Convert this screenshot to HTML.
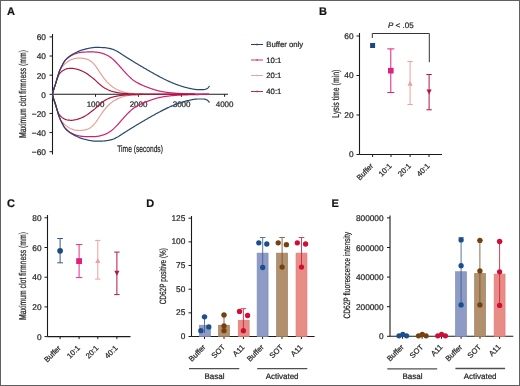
<!DOCTYPE html><html><head><meta charset="utf-8"><style>html,body{margin:0;padding:0;background:#fff;}svg{display:block;will-change:transform;}text{font-family:"Liberation Sans",sans-serif;stroke:#2a2a2a;stroke-width:0.22px;}</style></head><body>
<svg width="520" height="386" viewBox="0 0 520 386" text-rendering="geometricPrecision">
<rect x="0" y="0" width="520" height="386" fill="#fff"/>
<rect x="0.5" y="0.5" width="519" height="385" fill="none" stroke="#606060" stroke-width="1"/>
<text x="7" y="15" font-size="11" font-weight="bold" fill="#111">A</text>
<text x="319" y="15.3" font-size="11" font-weight="bold" fill="#111">B</text>
<text x="6.9" y="207.3" font-size="11" font-weight="bold" fill="#111">C</text>
<text x="146.3" y="207.3" font-size="11" font-weight="bold" fill="#111">D</text>
<text x="331.5" y="207.4" font-size="11" font-weight="bold" fill="#111">E</text>
<line x1="52.5" y1="34" x2="52.5" y2="154.5" stroke="#1a1a1a" stroke-width="1.1"/>
<line x1="52.5" y1="94.3" x2="228" y2="94.3" stroke="#1a1a1a" stroke-width="1.1"/>
<line x1="49.5" y1="36.90" x2="52.5" y2="36.90" stroke="#1a1a1a" stroke-width="1"/>
<text x="45.9" y="40.30" font-size="8.3" text-anchor="end" fill="#222">60</text>
<line x1="49.5" y1="56.03" x2="52.5" y2="56.03" stroke="#1a1a1a" stroke-width="1"/>
<text x="45.9" y="59.43" font-size="8.3" text-anchor="end" fill="#222">40</text>
<line x1="49.5" y1="75.17" x2="52.5" y2="75.17" stroke="#1a1a1a" stroke-width="1"/>
<text x="45.9" y="78.57" font-size="8.3" text-anchor="end" fill="#222">20</text>
<line x1="49.5" y1="94.30" x2="52.5" y2="94.30" stroke="#1a1a1a" stroke-width="1"/>
<text x="45.9" y="97.70" font-size="8.3" text-anchor="end" fill="#222">0</text>
<line x1="49.5" y1="113.43" x2="52.5" y2="113.43" stroke="#1a1a1a" stroke-width="1"/>
<text x="45.9" y="116.83" font-size="8.3" text-anchor="end" fill="#222">&#8722;20</text>
<line x1="49.5" y1="132.57" x2="52.5" y2="132.57" stroke="#1a1a1a" stroke-width="1"/>
<text x="45.9" y="135.97" font-size="8.3" text-anchor="end" fill="#222">&#8722;40</text>
<line x1="49.5" y1="151.70" x2="52.5" y2="151.70" stroke="#1a1a1a" stroke-width="1"/>
<text x="45.9" y="155.10" font-size="8.3" text-anchor="end" fill="#222">&#8722;60</text>
<line x1="95.53" y1="94.3" x2="95.53" y2="96.8" stroke="#1a1a1a" stroke-width="1"/>
<text x="95.53" y="107.3" font-size="8" text-anchor="middle" fill="#222">1000</text>
<line x1="138.56" y1="94.3" x2="138.56" y2="96.8" stroke="#1a1a1a" stroke-width="1"/>
<text x="138.56" y="107.3" font-size="8" text-anchor="middle" fill="#222">2000</text>
<line x1="181.59" y1="94.3" x2="181.59" y2="96.8" stroke="#1a1a1a" stroke-width="1"/>
<text x="181.59" y="107.3" font-size="8" text-anchor="middle" fill="#222">3000</text>
<line x1="224.62" y1="94.3" x2="224.62" y2="96.8" stroke="#1a1a1a" stroke-width="1"/>
<text x="224.62" y="107.3" font-size="8" text-anchor="middle" fill="#222">4000</text>
<path d="M52.50,94.30 L53.00,92.08 L53.50,90.14 L54.00,88.52 L54.50,87.05 L55.00,85.61 L55.50,84.08 L56.00,82.43 L56.50,80.74 L57.00,79.07 L57.50,77.49 L58.00,75.97 L58.50,74.48 L59.00,73.07 L59.50,71.74 L60.00,70.44 L60.50,69.27 L61.00,68.37 L61.50,67.62 L62.00,66.97 L62.50,66.38 L63.00,65.83 L63.50,65.30 L64.00,64.78 L64.50,64.28 L65.00,63.80 L65.50,63.36 L66.00,62.95 L66.50,62.58 L67.00,62.21 L67.50,61.85 L68.00,61.50 L68.50,61.17 L69.00,60.85 L69.50,60.55 L70.00,60.28 L70.50,60.02 L71.00,59.80 L71.50,59.60 L72.00,59.42 L72.50,59.24 L73.00,59.07 L73.50,58.90 L74.00,58.75 L74.50,58.61 L75.00,58.48 L75.50,58.38 L76.00,58.29 L76.50,58.23 L77.00,58.19 L77.50,58.17 L78.00,58.15 L78.50,58.13 L79.00,58.11 L79.50,58.10 L80.00,58.10 L80.50,58.11 L81.00,58.14 L81.50,58.18 L82.00,58.23 L82.50,58.29 L83.00,58.36 L83.50,58.43 L84.00,58.50 L84.50,58.58 L85.00,58.68 L85.50,58.80 L86.00,58.93 L86.50,59.08 L87.00,59.24 L87.50,59.41 L88.00,59.60 L88.50,59.82 L89.00,60.08 L89.50,60.37 L90.00,60.70 L90.50,61.05 L91.00,61.42 L91.50,61.80 L92.00,62.21 L92.50,62.65 L93.00,63.12 L93.50,63.63 L94.00,64.16 L94.50,64.72 L95.00,65.30 L95.50,65.92 L96.00,66.59 L96.50,67.31 L97.00,68.05 L97.50,68.82 L98.00,69.59 L98.50,70.36 L99.00,71.11 L99.50,71.84 L100.00,72.58 L100.50,73.33 L101.00,74.08 L101.50,74.82 L102.00,75.56 L102.50,76.27 L103.00,76.97 L103.50,77.63 L104.00,78.28 L104.50,78.92 L105.00,79.55 L105.50,80.16 L106.00,80.75 L106.50,81.33 L107.00,81.88 L107.50,82.40 L108.00,82.90 L108.50,83.39 L109.00,83.87 L109.50,84.34 L110.00,84.80 L110.50,85.24 L111.00,85.66 L111.50,86.07 L112.00,86.46 L112.50,86.82 L113.00,87.17 L113.50,87.49 L114.00,87.81 L114.50,88.11 L115.00,88.41 L115.50,88.69 L116.00,88.97 L116.50,89.23 L117.00,89.49 L117.50,89.74 L118.00,89.97 L118.50,90.20 L119.00,90.42 L119.50,90.63 L120.00,90.82 L120.50,91.01 L121.00,91.20 L121.50,91.38 L122.00,91.55 L122.50,91.72 L123.00,91.88 L123.50,92.04 L124.00,92.18 L124.50,92.31 L125.00,92.43 L125.50,92.54 L126.00,92.64 L126.50,92.73 L127.00,92.82 L127.50,92.91 L128.00,92.99 L128.50,93.08 L129.00,93.16 L129.50,93.23 L130.00,93.31 L130.50,93.38 L131.00,93.44 L131.50,93.50 L132.00,93.56 L132.50,93.61 L133.00,93.66 L133.50,93.70 L134.00,93.74 L134.50,93.77 L135.00,93.80 L135.50,93.82 L136.00,93.85 L136.50,93.87 L137.00,93.89 L137.50,93.91 L138.00,93.93 L138.50,93.95 L139.00,93.97 L139.50,93.98 L140.00,94.00 L140.50,94.02 L141.00,94.03 L141.50,94.05 L142.00,94.06 L142.50,94.08 L143.00,94.09 L143.50,94.10 L144.00,94.12 L144.50,94.13 L145.00,94.14 L145.50,94.15 L146.00,94.16 L146.50,94.16 L147.00,94.17 L147.50,94.18 L148.00,94.18 L148.50,94.19 L149.00,94.19 L149.50,94.20 L150.00,94.20 L150.50,94.20 L151.00,94.20 L151.50,94.21 L152.00,94.21 L152.50,94.21 L153.00,94.21 L153.50,94.22 L154.00,94.22 L154.50,94.22 L155.00,94.22 L155.50,94.22 L156.00,94.23 L156.50,94.23 L157.00,94.23 L157.50,94.23 L158.00,94.23 L158.50,94.24 L159.00,94.24 L159.50,94.24 L160.00,94.24 L160.50,94.24 L161.00,94.24 L161.50,94.25 L162.00,94.25 L162.50,94.25 L163.00,94.25 L163.50,94.25 L164.00,94.25 L164.50,94.26 L165.00,94.26 L165.50,94.26 L166.00,94.26 L166.50,94.26 L167.00,94.26 L167.50,94.26 L168.00,94.27 L168.50,94.27 L169.00,94.27 L169.50,94.27 L170.00,94.27 L170.50,94.27 L171.00,94.27 L171.50,94.27 L172.00,94.28 L172.50,94.28 L173.00,94.28 L173.50,94.28 L174.00,94.28 L174.50,94.28 L175.00,94.28 L175.50,94.28 L176.00,94.28 L176.50,94.28 L177.00,94.29 L177.50,94.29 L178.00,94.29 L178.50,94.29 L179.00,94.29 L179.50,94.29 L180.00,94.29 L180.50,94.29 L181.00,94.29 L181.50,94.29 L182.00,94.29 L182.50,94.29 L183.00,94.29 L183.50,94.29 L184.00,94.29 L184.50,94.30 L185.00,94.30 L185.50,94.30 L186.00,94.30 L186.50,94.30 L187.00,94.30 L187.50,94.30 L188.00,94.30 L188.50,94.30 L189.00,94.30 L189.50,94.30 L190.00,94.30 L190.50,94.30 L191.00,94.30 L191.50,94.30 L192.00,94.30 L192.50,94.30 L193.00,94.30 L193.50,94.30 L194.00,94.30 L194.50,94.30 L195.00,94.30" fill="none" stroke="#e6a096" stroke-width="1.2"/>
<path d="M52.50,94.30 L53.00,96.52 L53.50,98.46 L54.00,100.08 L54.50,101.55 L55.00,102.99 L55.50,104.52 L56.00,106.17 L56.50,107.86 L57.00,109.53 L57.50,111.11 L58.00,112.63 L58.50,114.12 L59.00,115.53 L59.50,116.86 L60.00,118.16 L60.50,119.33 L61.00,120.23 L61.50,120.98 L62.00,121.63 L62.50,122.22 L63.00,122.77 L63.50,123.30 L64.00,123.82 L64.50,124.32 L65.00,124.80 L65.50,125.24 L66.00,125.65 L66.50,126.02 L67.00,126.39 L67.50,126.75 L68.00,127.10 L68.50,127.43 L69.00,127.75 L69.50,128.05 L70.00,128.32 L70.50,128.58 L71.00,128.80 L71.50,129.00 L72.00,129.18 L72.50,129.36 L73.00,129.53 L73.50,129.70 L74.00,129.85 L74.50,129.99 L75.00,130.12 L75.50,130.22 L76.00,130.31 L76.50,130.37 L77.00,130.41 L77.50,130.43 L78.00,130.45 L78.50,130.47 L79.00,130.49 L79.50,130.50 L80.00,130.50 L80.50,130.49 L81.00,130.47 L81.50,130.42 L82.00,130.37 L82.50,130.31 L83.00,130.25 L83.50,130.17 L84.00,130.10 L84.50,130.02 L85.00,129.92 L85.50,129.80 L86.00,129.67 L86.50,129.52 L87.00,129.36 L87.50,129.19 L88.00,129.00 L88.50,128.78 L89.00,128.52 L89.50,128.23 L90.00,127.90 L90.50,127.55 L91.00,127.18 L91.50,126.80 L92.00,126.39 L92.50,125.95 L93.00,125.48 L93.50,124.97 L94.00,124.44 L94.50,123.88 L95.00,123.30 L95.50,122.68 L96.00,122.01 L96.50,121.29 L97.00,120.55 L97.50,119.78 L98.00,119.01 L98.50,118.24 L99.00,117.49 L99.50,116.76 L100.00,116.02 L100.50,115.27 L101.00,114.52 L101.50,113.78 L102.00,113.04 L102.50,112.33 L103.00,111.63 L103.50,110.97 L104.00,110.32 L104.50,109.68 L105.00,109.05 L105.50,108.44 L106.00,107.85 L106.50,107.27 L107.00,106.72 L107.50,106.20 L108.00,105.70 L108.50,105.21 L109.00,104.73 L109.50,104.26 L110.00,103.80 L110.50,103.36 L111.00,102.94 L111.50,102.53 L112.00,102.14 L112.50,101.78 L113.00,101.43 L113.50,101.11 L114.00,100.79 L114.50,100.49 L115.00,100.19 L115.50,99.91 L116.00,99.63 L116.50,99.37 L117.00,99.11 L117.50,98.86 L118.00,98.63 L118.50,98.40 L119.00,98.18 L119.50,97.97 L120.00,97.78 L120.50,97.59 L121.00,97.40 L121.50,97.22 L122.00,97.05 L122.50,96.88 L123.00,96.72 L123.50,96.56 L124.00,96.42 L124.50,96.29 L125.00,96.17 L125.50,96.06 L126.00,95.96 L126.50,95.87 L127.00,95.78 L127.50,95.69 L128.00,95.61 L128.50,95.52 L129.00,95.44 L129.50,95.37 L130.00,95.29 L130.50,95.22 L131.00,95.16 L131.50,95.10 L132.00,95.04 L132.50,94.99 L133.00,94.94 L133.50,94.90 L134.00,94.86 L134.50,94.83 L135.00,94.80 L135.50,94.78 L136.00,94.75 L136.50,94.73 L137.00,94.71 L137.50,94.69 L138.00,94.67 L138.50,94.65 L139.00,94.63 L139.50,94.62 L140.00,94.60 L140.50,94.58 L141.00,94.57 L141.50,94.55 L142.00,94.54 L142.50,94.52 L143.00,94.51 L143.50,94.50 L144.00,94.48 L144.50,94.47 L145.00,94.46 L145.50,94.45 L146.00,94.44 L146.50,94.44 L147.00,94.43 L147.50,94.42 L148.00,94.42 L148.50,94.41 L149.00,94.41 L149.50,94.40 L150.00,94.40 L150.50,94.40 L151.00,94.40 L151.50,94.39 L152.00,94.39 L152.50,94.39 L153.00,94.39 L153.50,94.38 L154.00,94.38 L154.50,94.38 L155.00,94.38 L155.50,94.38 L156.00,94.37 L156.50,94.37 L157.00,94.37 L157.50,94.37 L158.00,94.37 L158.50,94.36 L159.00,94.36 L159.50,94.36 L160.00,94.36 L160.50,94.36 L161.00,94.36 L161.50,94.35 L162.00,94.35 L162.50,94.35 L163.00,94.35 L163.50,94.35 L164.00,94.35 L164.50,94.34 L165.00,94.34 L165.50,94.34 L166.00,94.34 L166.50,94.34 L167.00,94.34 L167.50,94.34 L168.00,94.33 L168.50,94.33 L169.00,94.33 L169.50,94.33 L170.00,94.33 L170.50,94.33 L171.00,94.33 L171.50,94.33 L172.00,94.32 L172.50,94.32 L173.00,94.32 L173.50,94.32 L174.00,94.32 L174.50,94.32 L175.00,94.32 L175.50,94.32 L176.00,94.32 L176.50,94.32 L177.00,94.31 L177.50,94.31 L178.00,94.31 L178.50,94.31 L179.00,94.31 L179.50,94.31 L180.00,94.31 L180.50,94.31 L181.00,94.31 L181.50,94.31 L182.00,94.31 L182.50,94.31 L183.00,94.31 L183.50,94.31 L184.00,94.31 L184.50,94.30 L185.00,94.30 L185.50,94.30 L186.00,94.30 L186.50,94.30 L187.00,94.30 L187.50,94.30 L188.00,94.30 L188.50,94.30 L189.00,94.30 L189.50,94.30 L190.00,94.30 L190.50,94.30 L191.00,94.30 L191.50,94.30 L192.00,94.30 L192.50,94.30 L193.00,94.30 L193.50,94.30 L194.00,94.30 L194.50,94.30 L195.00,94.30" fill="none" stroke="#e6a096" stroke-width="1.2"/>
<path d="M52.50,94.30 L53.00,92.08 L53.50,90.14 L54.00,88.52 L54.50,87.06 L55.00,85.63 L55.50,84.08 L56.00,82.40 L56.50,80.67 L57.00,78.95 L57.50,77.27 L58.00,75.57 L58.50,73.89 L59.00,72.31 L59.50,70.95 L60.00,69.74 L60.50,68.64 L61.00,67.61 L61.50,66.64 L62.00,65.69 L62.50,64.74 L63.00,63.80 L63.50,62.89 L64.00,62.04 L64.50,61.29 L65.00,60.66 L65.50,60.09 L66.00,59.56 L66.50,59.07 L67.00,58.62 L67.50,58.19 L68.00,57.80 L68.50,57.42 L69.00,57.06 L69.50,56.72 L70.00,56.39 L70.50,56.08 L71.00,55.79 L71.50,55.51 L72.00,55.25 L72.50,54.99 L73.00,54.75 L73.50,54.52 L74.00,54.29 L74.50,54.07 L75.00,53.86 L75.50,53.67 L76.00,53.49 L76.50,53.32 L77.00,53.17 L77.50,53.03 L78.00,52.90 L78.50,52.78 L79.00,52.67 L79.50,52.57 L80.00,52.50 L80.50,52.44 L81.00,52.38 L81.50,52.32 L82.00,52.27 L82.50,52.22 L83.00,52.17 L83.50,52.13 L84.00,52.10 L84.50,52.07 L85.00,52.04 L85.50,52.02 L86.00,52.00 L86.50,51.99 L87.00,51.97 L87.50,51.96 L88.00,51.95 L88.50,51.94 L89.00,51.93 L89.50,51.92 L90.00,51.91 L90.50,51.91 L91.00,51.90 L91.50,51.90 L92.00,51.90 L92.50,51.90 L93.00,51.92 L93.50,51.94 L94.00,51.96 L94.50,51.99 L95.00,52.03 L95.50,52.07 L96.00,52.11 L96.50,52.15 L97.00,52.20 L97.50,52.26 L98.00,52.33 L98.50,52.42 L99.00,52.53 L99.50,52.64 L100.00,52.75 L100.50,52.88 L101.00,53.00 L101.50,53.13 L102.00,53.27 L102.50,53.42 L103.00,53.58 L103.50,53.75 L104.00,53.92 L104.50,54.11 L105.00,54.30 L105.50,54.50 L106.00,54.71 L106.50,54.94 L107.00,55.18 L107.50,55.44 L108.00,55.72 L108.50,56.02 L109.00,56.33 L109.50,56.65 L110.00,56.99 L110.50,57.34 L111.00,57.70 L111.50,58.07 L112.00,58.45 L112.50,58.86 L113.00,59.29 L113.50,59.74 L114.00,60.22 L114.50,60.70 L115.00,61.21 L115.50,61.72 L116.00,62.24 L116.50,62.76 L117.00,63.28 L117.50,63.80 L118.00,64.34 L118.50,64.88 L119.00,65.44 L119.50,66.01 L120.00,66.58 L120.50,67.16 L121.00,67.73 L121.50,68.31 L122.00,68.88 L122.50,69.45 L123.00,70.00 L123.50,70.55 L124.00,71.11 L124.50,71.66 L125.00,72.22 L125.50,72.77 L126.00,73.32 L126.50,73.86 L127.00,74.39 L127.50,74.91 L128.00,75.42 L128.50,75.90 L129.00,76.38 L129.50,76.85 L130.00,77.32 L130.50,77.78 L131.00,78.24 L131.50,78.68 L132.00,79.11 L132.50,79.52 L133.00,79.92 L133.50,80.30 L134.00,80.66 L134.50,81.00 L135.00,81.33 L135.50,81.65 L136.00,81.96 L136.50,82.26 L137.00,82.55 L137.50,82.83 L138.00,83.10 L138.50,83.37 L139.00,83.63 L139.50,83.88 L140.00,84.13 L140.50,84.37 L141.00,84.61 L141.50,84.84 L142.00,85.07 L142.50,85.29 L143.00,85.51 L143.50,85.73 L144.00,85.94 L144.50,86.14 L145.00,86.35 L145.50,86.54 L146.00,86.74 L146.50,86.93 L147.00,87.12 L147.50,87.31 L148.00,87.49 L148.50,87.67 L149.00,87.85 L149.50,88.03 L150.00,88.20 L150.50,88.37 L151.00,88.55 L151.50,88.72 L152.00,88.89 L152.50,89.06 L153.00,89.23 L153.50,89.39 L154.00,89.56 L154.50,89.72 L155.00,89.87 L155.50,90.03 L156.00,90.18 L156.50,90.32 L157.00,90.46 L157.50,90.59 L158.00,90.72 L158.50,90.84 L159.00,90.96 L159.50,91.06 L160.00,91.17 L160.50,91.27 L161.00,91.37 L161.50,91.47 L162.00,91.57 L162.50,91.66 L163.00,91.75 L163.50,91.84 L164.00,91.93 L164.50,92.01 L165.00,92.09 L165.50,92.17 L166.00,92.24 L166.50,92.31 L167.00,92.38 L167.50,92.45 L168.00,92.51 L168.50,92.57 L169.00,92.62 L169.50,92.68 L170.00,92.73 L170.50,92.78 L171.00,92.83 L171.50,92.88 L172.00,92.93 L172.50,92.97 L173.00,93.02 L173.50,93.06 L174.00,93.10 L174.50,93.14 L175.00,93.18 L175.50,93.22 L176.00,93.26 L176.50,93.29 L177.00,93.33 L177.50,93.36 L178.00,93.39 L178.50,93.42 L179.00,93.45 L179.50,93.48 L180.00,93.50 L180.50,93.52 L181.00,93.55 L181.50,93.57 L182.00,93.59 L182.50,93.61 L183.00,93.63 L183.50,93.66 L184.00,93.68 L184.50,93.70 L185.00,93.71 L185.50,93.73 L186.00,93.75 L186.50,93.77 L187.00,93.79 L187.50,93.80 L188.00,93.82 L188.50,93.83 L189.00,93.85 L189.50,93.87 L190.00,93.88 L190.50,93.89 L191.00,93.91 L191.50,93.92 L192.00,93.93 L192.50,93.95 L193.00,93.96 L193.50,93.97 L194.00,93.98 L194.50,93.99 L195.00,94.00 L195.50,94.01 L196.00,94.02 L196.50,94.03 L197.00,94.04 L197.50,94.05 L198.00,94.06 L198.50,94.07 L199.00,94.08 L199.50,94.08 L200.00,94.09 L200.50,94.10 L201.00,94.11 L201.50,94.12 L202.00,94.13 L202.50,94.13 L203.00,94.14 L203.50,94.15 L204.00,94.15 L204.50,94.16 L205.00,94.17 L205.50,94.17 L206.00,94.18 L206.50,94.18 L207.00,94.19 L207.50,94.19 L208.00,94.19 L208.50,94.20 L209.00,94.20" fill="none" stroke="#cf1f6e" stroke-width="1.2"/>
<path d="M52.50,94.30 L53.00,96.52 L53.50,98.46 L54.00,100.08 L54.50,101.54 L55.00,102.97 L55.50,104.52 L56.00,106.20 L56.50,107.93 L57.00,109.65 L57.50,111.33 L58.00,113.03 L58.50,114.71 L59.00,116.29 L59.50,117.65 L60.00,118.86 L60.50,119.96 L61.00,120.99 L61.50,121.96 L62.00,122.91 L62.50,123.86 L63.00,124.80 L63.50,125.71 L64.00,126.56 L64.50,127.31 L65.00,127.94 L65.50,128.51 L66.00,129.04 L66.50,129.53 L67.00,129.98 L67.50,130.41 L68.00,130.80 L68.50,131.18 L69.00,131.54 L69.50,131.88 L70.00,132.21 L70.50,132.52 L71.00,132.81 L71.50,133.09 L72.00,133.35 L72.50,133.61 L73.00,133.85 L73.50,134.08 L74.00,134.31 L74.50,134.53 L75.00,134.74 L75.50,134.93 L76.00,135.11 L76.50,135.28 L77.00,135.43 L77.50,135.57 L78.00,135.70 L78.50,135.82 L79.00,135.93 L79.50,136.03 L80.00,136.10 L80.50,136.16 L81.00,136.22 L81.50,136.28 L82.00,136.33 L82.50,136.38 L83.00,136.43 L83.50,136.47 L84.00,136.50 L84.50,136.53 L85.00,136.56 L85.50,136.58 L86.00,136.60 L86.50,136.61 L87.00,136.63 L87.50,136.64 L88.00,136.65 L88.50,136.66 L89.00,136.67 L89.50,136.68 L90.00,136.69 L90.50,136.69 L91.00,136.70 L91.50,136.70 L92.00,136.70 L92.50,136.70 L93.00,136.68 L93.50,136.66 L94.00,136.64 L94.50,136.61 L95.00,136.57 L95.50,136.53 L96.00,136.49 L96.50,136.45 L97.00,136.40 L97.50,136.34 L98.00,136.27 L98.50,136.18 L99.00,136.07 L99.50,135.96 L100.00,135.85 L100.50,135.72 L101.00,135.60 L101.50,135.47 L102.00,135.33 L102.50,135.18 L103.00,135.02 L103.50,134.85 L104.00,134.68 L104.50,134.49 L105.00,134.30 L105.50,134.10 L106.00,133.89 L106.50,133.66 L107.00,133.42 L107.50,133.16 L108.00,132.88 L108.50,132.58 L109.00,132.27 L109.50,131.95 L110.00,131.61 L110.50,131.26 L111.00,130.90 L111.50,130.53 L112.00,130.15 L112.50,129.74 L113.00,129.31 L113.50,128.86 L114.00,128.38 L114.50,127.90 L115.00,127.39 L115.50,126.88 L116.00,126.36 L116.50,125.84 L117.00,125.32 L117.50,124.80 L118.00,124.26 L118.50,123.72 L119.00,123.16 L119.50,122.59 L120.00,122.02 L120.50,121.44 L121.00,120.87 L121.50,120.29 L122.00,119.72 L122.50,119.15 L123.00,118.60 L123.50,118.05 L124.00,117.49 L124.50,116.94 L125.00,116.38 L125.50,115.83 L126.00,115.28 L126.50,114.74 L127.00,114.21 L127.50,113.69 L128.00,113.18 L128.50,112.70 L129.00,112.22 L129.50,111.75 L130.00,111.28 L130.50,110.82 L131.00,110.36 L131.50,109.92 L132.00,109.49 L132.50,109.08 L133.00,108.68 L133.50,108.30 L134.00,107.94 L134.50,107.60 L135.00,107.27 L135.50,106.95 L136.00,106.64 L136.50,106.34 L137.00,106.05 L137.50,105.77 L138.00,105.50 L138.50,105.23 L139.00,104.97 L139.50,104.72 L140.00,104.47 L140.50,104.23 L141.00,103.99 L141.50,103.76 L142.00,103.53 L142.50,103.31 L143.00,103.09 L143.50,102.87 L144.00,102.66 L144.50,102.46 L145.00,102.25 L145.50,102.06 L146.00,101.86 L146.50,101.67 L147.00,101.48 L147.50,101.29 L148.00,101.11 L148.50,100.93 L149.00,100.75 L149.50,100.57 L150.00,100.40 L150.50,100.23 L151.00,100.05 L151.50,99.88 L152.00,99.71 L152.50,99.54 L153.00,99.37 L153.50,99.21 L154.00,99.04 L154.50,98.88 L155.00,98.73 L155.50,98.57 L156.00,98.42 L156.50,98.28 L157.00,98.14 L157.50,98.01 L158.00,97.88 L158.50,97.76 L159.00,97.64 L159.50,97.54 L160.00,97.43 L160.50,97.33 L161.00,97.23 L161.50,97.13 L162.00,97.03 L162.50,96.94 L163.00,96.85 L163.50,96.76 L164.00,96.67 L164.50,96.59 L165.00,96.51 L165.50,96.43 L166.00,96.36 L166.50,96.29 L167.00,96.22 L167.50,96.15 L168.00,96.09 L168.50,96.03 L169.00,95.98 L169.50,95.92 L170.00,95.87 L170.50,95.82 L171.00,95.77 L171.50,95.72 L172.00,95.67 L172.50,95.63 L173.00,95.58 L173.50,95.54 L174.00,95.50 L174.50,95.46 L175.00,95.42 L175.50,95.38 L176.00,95.34 L176.50,95.31 L177.00,95.27 L177.50,95.24 L178.00,95.21 L178.50,95.18 L179.00,95.15 L179.50,95.12 L180.00,95.10 L180.50,95.08 L181.00,95.05 L181.50,95.03 L182.00,95.01 L182.50,94.99 L183.00,94.97 L183.50,94.94 L184.00,94.92 L184.50,94.90 L185.00,94.89 L185.50,94.87 L186.00,94.85 L186.50,94.83 L187.00,94.81 L187.50,94.80 L188.00,94.78 L188.50,94.77 L189.00,94.75 L189.50,94.73 L190.00,94.72 L190.50,94.71 L191.00,94.69 L191.50,94.68 L192.00,94.67 L192.50,94.65 L193.00,94.64 L193.50,94.63 L194.00,94.62 L194.50,94.61 L195.00,94.60 L195.50,94.59 L196.00,94.58 L196.50,94.57 L197.00,94.56 L197.50,94.55 L198.00,94.54 L198.50,94.53 L199.00,94.52 L199.50,94.52 L200.00,94.51 L200.50,94.50 L201.00,94.49 L201.50,94.48 L202.00,94.47 L202.50,94.47 L203.00,94.46 L203.50,94.45 L204.00,94.45 L204.50,94.44 L205.00,94.43 L205.50,94.43 L206.00,94.42 L206.50,94.42 L207.00,94.41 L207.50,94.41 L208.00,94.41 L208.50,94.40 L209.00,94.40" fill="none" stroke="#cf1f6e" stroke-width="1.2"/>
<path d="M52.50,94.30 L53.00,92.08 L53.50,90.14 L54.00,88.52 L54.50,87.05 L55.00,85.61 L55.50,84.08 L56.00,82.39 L56.50,80.67 L57.00,79.07 L57.50,77.70 L58.00,76.44 L58.50,75.36 L59.00,74.52 L59.50,73.79 L60.00,73.16 L60.50,72.60 L61.00,72.11 L61.50,71.65 L62.00,71.22 L62.50,70.84 L63.00,70.49 L63.50,70.20 L64.00,69.93 L64.50,69.67 L65.00,69.42 L65.50,69.19 L66.00,68.99 L66.50,68.82 L67.00,68.69 L67.50,68.60 L68.00,68.54 L68.50,68.48 L69.00,68.43 L69.50,68.39 L70.00,68.35 L70.50,68.32 L71.00,68.31 L71.50,68.30 L72.00,68.31 L72.50,68.35 L73.00,68.41 L73.50,68.49 L74.00,68.58 L74.50,68.68 L75.00,68.78 L75.50,68.88 L76.00,68.98 L76.50,69.10 L77.00,69.23 L77.50,69.37 L78.00,69.52 L78.50,69.68 L79.00,69.85 L79.50,70.02 L80.00,70.20 L80.50,70.38 L81.00,70.58 L81.50,70.79 L82.00,71.00 L82.50,71.23 L83.00,71.46 L83.50,71.71 L84.00,71.96 L84.50,72.23 L85.00,72.50 L85.50,72.79 L86.00,73.09 L86.50,73.41 L87.00,73.75 L87.50,74.09 L88.00,74.45 L88.50,74.82 L89.00,75.19 L89.50,75.57 L90.00,75.96 L90.50,76.35 L91.00,76.73 L91.50,77.12 L92.00,77.50 L92.50,77.88 L93.00,78.27 L93.50,78.66 L94.00,79.06 L94.50,79.47 L95.00,79.90 L95.50,80.35 L96.00,80.82 L96.50,81.31 L97.00,81.81 L97.50,82.31 L98.00,82.80 L98.50,83.28 L99.00,83.73 L99.50,84.15 L100.00,84.57 L100.50,84.99 L101.00,85.40 L101.50,85.80 L102.00,86.19 L102.50,86.57 L103.00,86.93 L103.50,87.28 L104.00,87.61 L104.50,87.92 L105.00,88.21 L105.50,88.50 L106.00,88.77 L106.50,89.04 L107.00,89.30 L107.50,89.56 L108.00,89.80 L108.50,90.04 L109.00,90.26 L109.50,90.48 L110.00,90.68 L110.50,90.87 L111.00,91.05 L111.50,91.21 L112.00,91.36 L112.50,91.50 L113.00,91.63 L113.50,91.76 L114.00,91.88 L114.50,91.99 L115.00,92.10 L115.50,92.21 L116.00,92.31 L116.50,92.41 L117.00,92.50 L117.50,92.59 L118.00,92.67 L118.50,92.75 L119.00,92.83 L119.50,92.91 L120.00,92.98 L120.50,93.06 L121.00,93.13 L121.50,93.20 L122.00,93.26 L122.50,93.32 L123.00,93.38 L123.50,93.43 L124.00,93.47 L124.50,93.51 L125.00,93.54 L125.50,93.58 L126.00,93.61 L126.50,93.64 L127.00,93.67 L127.50,93.70 L128.00,93.72 L128.50,93.75 L129.00,93.77 L129.50,93.80 L130.00,93.82 L130.50,93.84 L131.00,93.86 L131.50,93.88 L132.00,93.90 L132.50,93.92 L133.00,93.94 L133.50,93.95 L134.00,93.97 L134.50,93.99 L135.00,94.00 L135.50,94.01 L136.00,94.03 L136.50,94.04 L137.00,94.06 L137.50,94.07 L138.00,94.09 L138.50,94.10 L139.00,94.11 L139.50,94.13 L140.00,94.14 L140.50,94.15 L141.00,94.17 L141.50,94.18 L142.00,94.19 L142.50,94.20 L143.00,94.22 L143.50,94.23 L144.00,94.24 L144.50,94.25 L145.00,94.25 L145.50,94.26 L146.00,94.27 L146.50,94.28 L147.00,94.28 L147.50,94.29 L148.00,94.29 L148.50,94.30 L149.00,94.30 L149.50,94.30 L150.00,94.30 L150.50,94.30 L151.00,94.30 L151.50,94.30 L152.00,94.30 L152.50,94.30 L153.00,94.30 L153.50,94.30 L154.00,94.30 L154.50,94.30 L155.00,94.30 L155.50,94.30 L156.00,94.30 L156.50,94.30 L157.00,94.30 L157.50,94.30 L158.00,94.30 L158.50,94.30 L159.00,94.30 L159.50,94.30 L160.00,94.30 L160.50,94.30 L161.00,94.30 L161.50,94.30 L162.00,94.30 L162.50,94.30 L163.00,94.30 L163.50,94.30 L164.00,94.30 L164.50,94.30 L165.00,94.30 L165.50,94.30 L166.00,94.30 L166.50,94.30 L167.00,94.30 L167.50,94.30 L168.00,94.30 L168.50,94.30 L169.00,94.30 L169.50,94.30 L170.00,94.30 L170.50,94.30 L171.00,94.30 L171.50,94.30 L172.00,94.30 L172.50,94.30 L173.00,94.30 L173.50,94.30 L174.00,94.30 L174.50,94.30 L175.00,94.30 L175.50,94.30 L176.00,94.30 L176.50,94.30 L177.00,94.30 L177.50,94.30 L178.00,94.30 L178.50,94.30 L179.00,94.30 L179.50,94.30 L180.00,94.30 L180.50,94.30 L181.00,94.30 L181.50,94.30 L182.00,94.30 L182.50,94.30 L183.00,94.30 L183.50,94.30 L184.00,94.30 L184.50,94.30 L185.00,94.30 L185.50,94.30 L186.00,94.30 L186.50,94.30 L187.00,94.30 L187.50,94.30 L188.00,94.30 L188.50,94.30 L189.00,94.30 L189.50,94.30 L190.00,94.30 L190.50,94.30 L191.00,94.30 L191.50,94.30 L192.00,94.30 L192.50,94.30 L193.00,94.30 L193.50,94.30 L194.00,94.30 L194.50,94.30 L195.00,94.30" fill="none" stroke="#a8173f" stroke-width="1.2"/>
<path d="M52.50,94.30 L53.00,96.52 L53.50,98.46 L54.00,100.08 L54.50,101.55 L55.00,102.99 L55.50,104.52 L56.00,106.21 L56.50,107.93 L57.00,109.53 L57.50,110.90 L58.00,112.16 L58.50,113.24 L59.00,114.08 L59.50,114.81 L60.00,115.44 L60.50,116.00 L61.00,116.49 L61.50,116.95 L62.00,117.38 L62.50,117.76 L63.00,118.11 L63.50,118.40 L64.00,118.67 L64.50,118.93 L65.00,119.18 L65.50,119.41 L66.00,119.61 L66.50,119.78 L67.00,119.91 L67.50,120.00 L68.00,120.06 L68.50,120.12 L69.00,120.17 L69.50,120.21 L70.00,120.25 L70.50,120.28 L71.00,120.29 L71.50,120.30 L72.00,120.29 L72.50,120.25 L73.00,120.19 L73.50,120.11 L74.00,120.02 L74.50,119.92 L75.00,119.82 L75.50,119.72 L76.00,119.62 L76.50,119.50 L77.00,119.37 L77.50,119.23 L78.00,119.08 L78.50,118.92 L79.00,118.75 L79.50,118.58 L80.00,118.40 L80.50,118.22 L81.00,118.02 L81.50,117.81 L82.00,117.60 L82.50,117.37 L83.00,117.14 L83.50,116.89 L84.00,116.64 L84.50,116.37 L85.00,116.10 L85.50,115.81 L86.00,115.51 L86.50,115.19 L87.00,114.85 L87.50,114.51 L88.00,114.15 L88.50,113.78 L89.00,113.41 L89.50,113.03 L90.00,112.64 L90.50,112.25 L91.00,111.87 L91.50,111.48 L92.00,111.10 L92.50,110.72 L93.00,110.33 L93.50,109.94 L94.00,109.54 L94.50,109.13 L95.00,108.70 L95.50,108.25 L96.00,107.78 L96.50,107.29 L97.00,106.79 L97.50,106.29 L98.00,105.80 L98.50,105.32 L99.00,104.87 L99.50,104.45 L100.00,104.03 L100.50,103.61 L101.00,103.20 L101.50,102.80 L102.00,102.41 L102.50,102.03 L103.00,101.67 L103.50,101.32 L104.00,100.99 L104.50,100.68 L105.00,100.39 L105.50,100.10 L106.00,99.83 L106.50,99.56 L107.00,99.30 L107.50,99.04 L108.00,98.80 L108.50,98.56 L109.00,98.34 L109.50,98.12 L110.00,97.92 L110.50,97.73 L111.00,97.55 L111.50,97.39 L112.00,97.24 L112.50,97.10 L113.00,96.97 L113.50,96.84 L114.00,96.72 L114.50,96.61 L115.00,96.50 L115.50,96.39 L116.00,96.29 L116.50,96.19 L117.00,96.10 L117.50,96.01 L118.00,95.93 L118.50,95.85 L119.00,95.77 L119.50,95.69 L120.00,95.62 L120.50,95.54 L121.00,95.47 L121.50,95.40 L122.00,95.34 L122.50,95.28 L123.00,95.22 L123.50,95.17 L124.00,95.13 L124.50,95.09 L125.00,95.06 L125.50,95.02 L126.00,94.99 L126.50,94.96 L127.00,94.93 L127.50,94.90 L128.00,94.88 L128.50,94.85 L129.00,94.83 L129.50,94.80 L130.00,94.78 L130.50,94.76 L131.00,94.74 L131.50,94.72 L132.00,94.70 L132.50,94.68 L133.00,94.66 L133.50,94.65 L134.00,94.63 L134.50,94.61 L135.00,94.60 L135.50,94.59 L136.00,94.57 L136.50,94.56 L137.00,94.54 L137.50,94.53 L138.00,94.51 L138.50,94.50 L139.00,94.49 L139.50,94.47 L140.00,94.46 L140.50,94.45 L141.00,94.43 L141.50,94.42 L142.00,94.41 L142.50,94.40 L143.00,94.38 L143.50,94.37 L144.00,94.36 L144.50,94.35 L145.00,94.35 L145.50,94.34 L146.00,94.33 L146.50,94.32 L147.00,94.32 L147.50,94.31 L148.00,94.31 L148.50,94.30 L149.00,94.30 L149.50,94.30 L150.00,94.30 L150.50,94.30 L151.00,94.30 L151.50,94.30 L152.00,94.30 L152.50,94.30 L153.00,94.30 L153.50,94.30 L154.00,94.30 L154.50,94.30 L155.00,94.30 L155.50,94.30 L156.00,94.30 L156.50,94.30 L157.00,94.30 L157.50,94.30 L158.00,94.30 L158.50,94.30 L159.00,94.30 L159.50,94.30 L160.00,94.30 L160.50,94.30 L161.00,94.30 L161.50,94.30 L162.00,94.30 L162.50,94.30 L163.00,94.30 L163.50,94.30 L164.00,94.30 L164.50,94.30 L165.00,94.30 L165.50,94.30 L166.00,94.30 L166.50,94.30 L167.00,94.30 L167.50,94.30 L168.00,94.30 L168.50,94.30 L169.00,94.30 L169.50,94.30 L170.00,94.30 L170.50,94.30 L171.00,94.30 L171.50,94.30 L172.00,94.30 L172.50,94.30 L173.00,94.30 L173.50,94.30 L174.00,94.30 L174.50,94.30 L175.00,94.30 L175.50,94.30 L176.00,94.30 L176.50,94.30 L177.00,94.30 L177.50,94.30 L178.00,94.30 L178.50,94.30 L179.00,94.30 L179.50,94.30 L180.00,94.30 L180.50,94.30 L181.00,94.30 L181.50,94.30 L182.00,94.30 L182.50,94.30 L183.00,94.30 L183.50,94.30 L184.00,94.30 L184.50,94.30 L185.00,94.30 L185.50,94.30 L186.00,94.30 L186.50,94.30 L187.00,94.30 L187.50,94.30 L188.00,94.30 L188.50,94.30 L189.00,94.30 L189.50,94.30 L190.00,94.30 L190.50,94.30 L191.00,94.30 L191.50,94.30 L192.00,94.30 L192.50,94.30 L193.00,94.30 L193.50,94.30 L194.00,94.30 L194.50,94.30 L195.00,94.30" fill="none" stroke="#a8173f" stroke-width="1.2"/>
<path d="M52.50,94.30 L53.00,92.08 L53.50,90.14 L54.00,88.52 L54.50,87.06 L55.00,85.63 L55.50,84.08 L56.00,82.40 L56.50,80.67 L57.00,78.95 L57.50,77.27 L58.00,75.57 L58.50,73.89 L59.00,72.31 L59.50,70.95 L60.00,69.75 L60.50,68.65 L61.00,67.62 L61.50,66.65 L62.00,65.69 L62.50,64.73 L63.00,63.78 L63.50,62.85 L64.00,61.99 L64.50,61.21 L65.00,60.55 L65.50,59.94 L66.00,59.38 L66.50,58.85 L67.00,58.36 L67.50,57.89 L68.00,57.46 L68.50,57.04 L69.00,56.64 L69.50,56.26 L70.00,55.91 L70.50,55.56 L71.00,55.24 L71.50,54.92 L72.00,54.62 L72.50,54.33 L73.00,54.04 L73.50,53.77 L74.00,53.50 L74.50,53.25 L75.00,53.00 L75.50,52.76 L76.00,52.53 L76.50,52.29 L77.00,52.05 L77.50,51.81 L78.00,51.57 L78.50,51.34 L79.00,51.11 L79.50,50.89 L80.00,50.70 L80.50,50.52 L81.00,50.35 L81.50,50.19 L82.00,50.03 L82.50,49.88 L83.00,49.73 L83.50,49.60 L84.00,49.46 L84.50,49.33 L85.00,49.20 L85.50,49.07 L86.00,48.95 L86.50,48.82 L87.00,48.70 L87.50,48.59 L88.00,48.48 L88.50,48.37 L89.00,48.27 L89.50,48.18 L90.00,48.10 L90.50,48.02 L91.00,47.94 L91.50,47.86 L92.00,47.78 L92.50,47.71 L93.00,47.63 L93.50,47.57 L94.00,47.51 L94.50,47.47 L95.00,47.43 L95.50,47.41 L96.00,47.40 L96.50,47.40 L97.00,47.40 L97.50,47.41 L98.00,47.42 L98.50,47.43 L99.00,47.44 L99.50,47.45 L100.00,47.47 L100.50,47.48 L101.00,47.50 L101.50,47.52 L102.00,47.54 L102.50,47.56 L103.00,47.58 L103.50,47.60 L104.00,47.63 L104.50,47.67 L105.00,47.72 L105.50,47.77 L106.00,47.84 L106.50,47.91 L107.00,47.98 L107.50,48.07 L108.00,48.16 L108.50,48.25 L109.00,48.35 L109.50,48.46 L110.00,48.57 L110.50,48.69 L111.00,48.80 L111.50,48.93 L112.00,49.05 L112.50,49.20 L113.00,49.37 L113.50,49.57 L114.00,49.78 L114.50,50.01 L115.00,50.25 L115.50,50.50 L116.00,50.76 L116.50,51.02 L117.00,51.29 L117.50,51.55 L118.00,51.83 L118.50,52.13 L119.00,52.44 L119.50,52.76 L120.00,53.09 L120.50,53.43 L121.00,53.77 L121.50,54.11 L122.00,54.44 L122.50,54.78 L123.00,55.10 L123.50,55.42 L124.00,55.73 L124.50,56.05 L125.00,56.37 L125.50,56.68 L126.00,57.00 L126.50,57.31 L127.00,57.63 L127.50,57.94 L128.00,58.25 L128.50,58.57 L129.00,58.88 L129.50,59.19 L130.00,59.50 L130.50,59.81 L131.00,60.12 L131.50,60.43 L132.00,60.74 L132.50,61.05 L133.00,61.36 L133.50,61.67 L134.00,61.98 L134.50,62.28 L135.00,62.59 L135.50,62.89 L136.00,63.20 L136.50,63.50 L137.00,63.80 L137.50,64.10 L138.00,64.40 L138.50,64.69 L139.00,64.99 L139.50,65.28 L140.00,65.57 L140.50,65.86 L141.00,66.15 L141.50,66.44 L142.00,66.74 L142.50,67.03 L143.00,67.32 L143.50,67.61 L144.00,67.90 L144.50,68.19 L145.00,68.49 L145.50,68.78 L146.00,69.07 L146.50,69.37 L147.00,69.66 L147.50,69.95 L148.00,70.25 L148.50,70.54 L149.00,70.83 L149.50,71.11 L150.00,71.40 L150.50,71.68 L151.00,71.97 L151.50,72.25 L152.00,72.54 L152.50,72.82 L153.00,73.10 L153.50,73.38 L154.00,73.66 L154.50,73.94 L155.00,74.22 L155.50,74.50 L156.00,74.78 L156.50,75.05 L157.00,75.32 L157.50,75.59 L158.00,75.86 L158.50,76.13 L159.00,76.39 L159.50,76.66 L160.00,76.92 L160.50,77.18 L161.00,77.45 L161.50,77.71 L162.00,77.97 L162.50,78.23 L163.00,78.49 L163.50,78.74 L164.00,79.00 L164.50,79.25 L165.00,79.50 L165.50,79.75 L166.00,79.99 L166.50,80.23 L167.00,80.47 L167.50,80.71 L168.00,80.94 L168.50,81.17 L169.00,81.39 L169.50,81.61 L170.00,81.83 L170.50,82.05 L171.00,82.27 L171.50,82.48 L172.00,82.69 L172.50,82.90 L173.00,83.11 L173.50,83.32 L174.00,83.52 L174.50,83.72 L175.00,83.92 L175.50,84.11 L176.00,84.30 L176.50,84.49 L177.00,84.67 L177.50,84.85 L178.00,85.03 L178.50,85.20 L179.00,85.37 L179.50,85.54 L180.00,85.71 L180.50,85.87 L181.00,86.04 L181.50,86.20 L182.00,86.36 L182.50,86.52 L183.00,86.68 L183.50,86.83 L184.00,86.98 L184.50,87.12 L185.00,87.26 L185.50,87.40 L186.00,87.53 L186.50,87.66 L187.00,87.78 L187.50,87.89 L188.00,88.00 L188.50,88.11 L189.00,88.22 L189.50,88.33 L190.00,88.44 L190.50,88.56 L191.00,88.67 L191.50,88.78 L192.00,88.88 L192.50,88.99 L193.00,89.09 L193.50,89.18 L194.00,89.26 L194.50,89.34 L195.00,89.41 L195.50,89.47 L196.00,89.52 L196.50,89.56 L197.00,89.59 L197.50,89.60 L198.00,89.60 L198.50,89.60 L199.00,89.60 L199.50,89.60 L200.00,89.60 L200.50,89.60 L201.00,89.60 L201.50,89.60 L202.00,89.60 L202.50,89.60 L203.00,89.60 L203.50,89.60 L204.00,89.57 L204.50,89.50 L205.00,89.38 L205.50,89.22 L206.00,89.03 L206.50,88.83 L207.00,88.60 L207.50,88.29 L208.00,87.84 L208.50,87.29 L209.00,86.67 L209.50,86.00" fill="none" stroke="#24476f" stroke-width="1.2"/>
<path d="M52.50,94.30 L53.00,96.52 L53.50,98.46 L54.00,100.08 L54.50,101.54 L55.00,102.97 L55.50,104.52 L56.00,106.20 L56.50,107.93 L57.00,109.65 L57.50,111.33 L58.00,113.03 L58.50,114.71 L59.00,116.29 L59.50,117.65 L60.00,118.85 L60.50,119.95 L61.00,120.98 L61.50,121.95 L62.00,122.91 L62.50,123.87 L63.00,124.82 L63.50,125.75 L64.00,126.61 L64.50,127.39 L65.00,128.05 L65.50,128.66 L66.00,129.22 L66.50,129.75 L67.00,130.24 L67.50,130.71 L68.00,131.14 L68.50,131.56 L69.00,131.96 L69.50,132.34 L70.00,132.69 L70.50,133.04 L71.00,133.36 L71.50,133.68 L72.00,133.98 L72.50,134.27 L73.00,134.56 L73.50,134.83 L74.00,135.10 L74.50,135.35 L75.00,135.60 L75.50,135.84 L76.00,136.07 L76.50,136.31 L77.00,136.55 L77.50,136.79 L78.00,137.03 L78.50,137.26 L79.00,137.49 L79.50,137.71 L80.00,137.90 L80.50,138.08 L81.00,138.25 L81.50,138.41 L82.00,138.57 L82.50,138.72 L83.00,138.87 L83.50,139.00 L84.00,139.14 L84.50,139.27 L85.00,139.40 L85.50,139.53 L86.00,139.65 L86.50,139.78 L87.00,139.90 L87.50,140.01 L88.00,140.12 L88.50,140.23 L89.00,140.33 L89.50,140.42 L90.00,140.50 L90.50,140.58 L91.00,140.66 L91.50,140.74 L92.00,140.82 L92.50,140.89 L93.00,140.97 L93.50,141.03 L94.00,141.09 L94.50,141.13 L95.00,141.17 L95.50,141.19 L96.00,141.20 L96.50,141.20 L97.00,141.20 L97.50,141.19 L98.00,141.18 L98.50,141.17 L99.00,141.16 L99.50,141.15 L100.00,141.13 L100.50,141.12 L101.00,141.10 L101.50,141.08 L102.00,141.06 L102.50,141.04 L103.00,141.02 L103.50,141.00 L104.00,140.97 L104.50,140.93 L105.00,140.88 L105.50,140.83 L106.00,140.76 L106.50,140.69 L107.00,140.62 L107.50,140.53 L108.00,140.44 L108.50,140.35 L109.00,140.25 L109.50,140.14 L110.00,140.03 L110.50,139.91 L111.00,139.80 L111.50,139.67 L112.00,139.55 L112.50,139.40 L113.00,139.23 L113.50,139.03 L114.00,138.82 L114.50,138.59 L115.00,138.35 L115.50,138.10 L116.00,137.84 L116.50,137.58 L117.00,137.31 L117.50,137.05 L118.00,136.77 L118.50,136.47 L119.00,136.16 L119.50,135.84 L120.00,135.51 L120.50,135.17 L121.00,134.83 L121.50,134.49 L122.00,134.16 L122.50,133.82 L123.00,133.50 L123.50,133.18 L124.00,132.87 L124.50,132.55 L125.00,132.23 L125.50,131.92 L126.00,131.60 L126.50,131.29 L127.00,130.97 L127.50,130.66 L128.00,130.35 L128.50,130.03 L129.00,129.72 L129.50,129.41 L130.00,129.10 L130.50,128.79 L131.00,128.48 L131.50,128.17 L132.00,127.86 L132.50,127.55 L133.00,127.24 L133.50,126.93 L134.00,126.62 L134.50,126.32 L135.00,126.01 L135.50,125.71 L136.00,125.40 L136.50,125.10 L137.00,124.80 L137.50,124.50 L138.00,124.20 L138.50,123.91 L139.00,123.61 L139.50,123.32 L140.00,123.03 L140.50,122.74 L141.00,122.45 L141.50,122.16 L142.00,121.86 L142.50,121.57 L143.00,121.28 L143.50,120.99 L144.00,120.70 L144.50,120.41 L145.00,120.11 L145.50,119.82 L146.00,119.53 L146.50,119.23 L147.00,118.94 L147.50,118.65 L148.00,118.35 L148.50,118.06 L149.00,117.77 L149.50,117.49 L150.00,117.20 L150.50,116.92 L151.00,116.63 L151.50,116.35 L152.00,116.06 L152.50,115.78 L153.00,115.50 L153.50,115.22 L154.00,114.94 L154.50,114.66 L155.00,114.38 L155.50,114.10 L156.00,113.82 L156.50,113.55 L157.00,113.28 L157.50,113.01 L158.00,112.74 L158.50,112.47 L159.00,112.21 L159.50,111.94 L160.00,111.68 L160.50,111.42 L161.00,111.15 L161.50,110.89 L162.00,110.63 L162.50,110.37 L163.00,110.11 L163.50,109.86 L164.00,109.60 L164.50,109.35 L165.00,109.10 L165.50,108.85 L166.00,108.61 L166.50,108.37 L167.00,108.13 L167.50,107.89 L168.00,107.66 L168.50,107.43 L169.00,107.21 L169.50,106.99 L170.00,106.77 L170.50,106.55 L171.00,106.33 L171.50,106.12 L172.00,105.91 L172.50,105.70 L173.00,105.49 L173.50,105.28 L174.00,105.08 L174.50,104.88 L175.00,104.68 L175.50,104.49 L176.00,104.30 L176.50,104.11 L177.00,103.93 L177.50,103.75 L178.00,103.57 L178.50,103.40 L179.00,103.23 L179.50,103.06 L180.00,102.89 L180.50,102.73 L181.00,102.56 L181.50,102.40 L182.00,102.24 L182.50,102.08 L183.00,101.92 L183.50,101.77 L184.00,101.62 L184.50,101.48 L185.00,101.34 L185.50,101.20 L186.00,101.07 L186.50,100.94 L187.00,100.82 L187.50,100.71 L188.00,100.60 L188.50,100.49 L189.00,100.38 L189.50,100.27 L190.00,100.16 L190.50,100.04 L191.00,99.93 L191.50,99.82 L192.00,99.72 L192.50,99.61 L193.00,99.51 L193.50,99.42 L194.00,99.34 L194.50,99.26 L195.00,99.19 L195.50,99.13 L196.00,99.08 L196.50,99.04 L197.00,99.01 L197.50,99.00 L198.00,99.00 L198.50,99.00 L199.00,99.00 L199.50,99.00 L200.00,99.00 L200.50,99.00 L201.00,99.00 L201.50,99.00 L202.00,99.00 L202.50,99.00 L203.00,99.00 L203.50,99.00 L204.00,99.03 L204.50,99.10 L205.00,99.22 L205.50,99.38 L206.00,99.57 L206.50,99.77 L207.00,100.00 L207.50,100.31 L208.00,100.76 L208.50,101.31 L209.00,101.93 L209.50,102.60" fill="none" stroke="#24476f" stroke-width="1.2"/>
<text x="140.1" y="151.8" font-size="9.6" text-anchor="middle" fill="#222" textLength="45.6" lengthAdjust="spacingAndGlyphs">Time (seconds)</text>
<text transform="translate(25.8,94) rotate(-90)" x="0" y="0" font-size="9.9" text-anchor="middle" fill="#222" textLength="88" lengthAdjust="spacingAndGlyphs">Maximum clot firmness (mm)</text>
<line x1="251" y1="44.5" x2="263" y2="44.5" stroke="#2a3f66" stroke-width="1"/>
<rect x="256.3" y="43.7" width="1.6" height="1.6" fill="#2a3f66" opacity="0.8"/>
<text x="266.3" y="47.20" font-size="7.75" fill="#222">Buffer only</text>
<line x1="251" y1="60" x2="263" y2="60" stroke="#cc3377" stroke-width="1"/>
<rect x="256.3" y="59.2" width="1.6" height="1.6" fill="#cc3377" opacity="0.8"/>
<text x="266.3" y="62.70" font-size="7.75" fill="#222">10:1</text>
<line x1="251" y1="75.5" x2="263" y2="75.5" stroke="#dcaaa8" stroke-width="1"/>
<rect x="256.3" y="74.7" width="1.6" height="1.6" fill="#dcaaa8" opacity="0.8"/>
<text x="266.3" y="78.20" font-size="7.75" fill="#222">20:1</text>
<line x1="251" y1="91.5" x2="263" y2="91.5" stroke="#a8305a" stroke-width="1"/>
<rect x="256.3" y="90.7" width="1.6" height="1.6" fill="#a8305a" opacity="0.8"/>
<text x="266.3" y="94.20" font-size="7.75" fill="#222">40:1</text>
<line x1="359.5" y1="33" x2="359.5" y2="154.5" stroke="#1a1a1a" stroke-width="1.1"/>
<line x1="359.5" y1="154.5" x2="442" y2="154.5" stroke="#1a1a1a" stroke-width="1.1"/>
<line x1="356.5" y1="36.00" x2="359.5" y2="36.00" stroke="#1a1a1a" stroke-width="1"/>
<text x="353.6" y="38.50" font-size="8.3" text-anchor="end" fill="#222">60</text>
<line x1="356.5" y1="75.50" x2="359.5" y2="75.50" stroke="#1a1a1a" stroke-width="1"/>
<text x="353.6" y="78.00" font-size="8.3" text-anchor="end" fill="#222">40</text>
<line x1="356.5" y1="115.00" x2="359.5" y2="115.00" stroke="#1a1a1a" stroke-width="1"/>
<text x="353.6" y="117.50" font-size="8.3" text-anchor="end" fill="#222">20</text>
<line x1="356.5" y1="154.50" x2="359.5" y2="154.50" stroke="#1a1a1a" stroke-width="1"/>
<text x="353.6" y="157.00" font-size="8.3" text-anchor="end" fill="#222">0</text>
<line x1="372.6" y1="154.5" x2="372.6" y2="157.0" stroke="#1a1a1a" stroke-width="1"/>
<line x1="391" y1="154.5" x2="391" y2="157.0" stroke="#1a1a1a" stroke-width="1"/>
<line x1="410.1" y1="154.5" x2="410.1" y2="157.0" stroke="#1a1a1a" stroke-width="1"/>
<line x1="429" y1="154.5" x2="429" y2="157.0" stroke="#1a1a1a" stroke-width="1"/>
<text transform="translate(339.1,93.7) rotate(-90)" x="0" y="0" font-size="9.9" text-anchor="middle" fill="#222" textLength="48" lengthAdjust="spacingAndGlyphs">Lysis time (min)</text>
<text transform="translate(373.90,166.50) rotate(-45)" font-size="7.6" text-anchor="end" fill="#222">Buffer</text>
<text transform="translate(392.30,166.50) rotate(-45)" font-size="7.6" text-anchor="end" fill="#222">10:1</text>
<text transform="translate(411.40,166.50) rotate(-45)" font-size="7.6" text-anchor="end" fill="#222">20:1</text>
<text transform="translate(430.30,166.50) rotate(-45)" font-size="7.6" text-anchor="end" fill="#222">40:1</text>
<path d="M372.3,38 V33.5 H429.3 V62.2" fill="none" stroke="#333" stroke-width="1"/>
<text x="400.8" y="28.2" font-size="8" text-anchor="middle" fill="#222"><tspan font-style="italic">P</tspan> &lt; .05</text>
<rect x="370.10" y="43.00" width="5" height="5" fill="#1b4a80"/>
<g stroke="#e0207f" stroke-width="1.0" opacity="1"><line x1="390.8" y1="48.9" x2="390.8" y2="92.5"/><line x1="387.3" y1="48.9" x2="394.3" y2="48.9"/><line x1="387.3" y1="92.5" x2="394.3" y2="92.5"/></g>
<rect x="388.00" y="67.90" width="5.6" height="5.6" fill="#e0207f"/>
<g stroke="#eaa39c" stroke-width="1.0" opacity="1"><line x1="410.1" y1="61.5" x2="410.1" y2="104.5"/><line x1="407.45000000000005" y1="61.5" x2="412.75" y2="61.5"/><line x1="407.45000000000005" y1="104.5" x2="412.75" y2="104.5"/></g>
<path d="M410.10,80.74 L412.70,85.68 L407.50,85.68 Z" fill="#eaa39c"/>
<g stroke="#b0184a" stroke-width="1.0" opacity="1"><line x1="429.1" y1="74.5" x2="429.1" y2="109.8"/><line x1="426.40000000000003" y1="74.5" x2="431.8" y2="74.5"/><line x1="426.40000000000003" y1="109.8" x2="431.8" y2="109.8"/></g>
<path d="M429.10,94.56 L431.70,89.62 L426.50,89.62 Z" fill="#b0184a"/>
<line x1="47.5" y1="215" x2="47.5" y2="336.6" stroke="#1a1a1a" stroke-width="1.1"/>
<line x1="47.5" y1="336.6" x2="130.5" y2="336.6" stroke="#1a1a1a" stroke-width="1.1"/>
<line x1="44.5" y1="217.80" x2="47.5" y2="217.80" stroke="#1a1a1a" stroke-width="1"/>
<text x="41.6" y="220.80" font-size="8.3" text-anchor="end" fill="#222">80</text>
<line x1="44.5" y1="247.50" x2="47.5" y2="247.50" stroke="#1a1a1a" stroke-width="1"/>
<text x="41.6" y="250.50" font-size="8.3" text-anchor="end" fill="#222">60</text>
<line x1="44.5" y1="277.20" x2="47.5" y2="277.20" stroke="#1a1a1a" stroke-width="1"/>
<text x="41.6" y="280.20" font-size="8.3" text-anchor="end" fill="#222">40</text>
<line x1="44.5" y1="306.90" x2="47.5" y2="306.90" stroke="#1a1a1a" stroke-width="1"/>
<text x="41.6" y="309.90" font-size="8.3" text-anchor="end" fill="#222">20</text>
<line x1="44.5" y1="336.60" x2="47.5" y2="336.60" stroke="#1a1a1a" stroke-width="1"/>
<text x="41.6" y="339.60" font-size="8.3" text-anchor="end" fill="#222">0</text>
<line x1="60.1" y1="336.6" x2="60.1" y2="339.1" stroke="#1a1a1a" stroke-width="1"/>
<line x1="79.1" y1="336.6" x2="79.1" y2="339.1" stroke="#1a1a1a" stroke-width="1"/>
<line x1="97.8" y1="336.6" x2="97.8" y2="339.1" stroke="#1a1a1a" stroke-width="1"/>
<line x1="116.9" y1="336.6" x2="116.9" y2="339.1" stroke="#1a1a1a" stroke-width="1"/>
<text transform="translate(61.40,348.60) rotate(-45)" font-size="7.6" text-anchor="end" fill="#222">Buffer</text>
<text transform="translate(80.40,348.60) rotate(-45)" font-size="7.6" text-anchor="end" fill="#222">10:1</text>
<text transform="translate(99.10,348.60) rotate(-45)" font-size="7.6" text-anchor="end" fill="#222">20:1</text>
<text transform="translate(118.20,348.60) rotate(-45)" font-size="7.6" text-anchor="end" fill="#222">40:1</text>
<text transform="translate(25.8,276) rotate(-90)" x="0" y="0" font-size="9.9" text-anchor="middle" fill="#222" textLength="88" lengthAdjust="spacingAndGlyphs">Maximum clot firmness (mm)</text>
<g stroke="#3a5a85" stroke-width="1.0" opacity="1"><line x1="60.1" y1="238.5" x2="60.1" y2="262.8"/><line x1="57.2" y1="238.5" x2="63.0" y2="238.5"/><line x1="57.2" y1="262.8" x2="63.0" y2="262.8"/></g>
<circle cx="60.10" cy="250.80" r="2.85" fill="#1b4a80"/>
<g stroke="#e0308a" stroke-width="1.0" opacity="1"><line x1="79.1" y1="244.6" x2="79.1" y2="277.6"/><line x1="75.85" y1="244.6" x2="82.35" y2="244.6"/><line x1="75.85" y1="277.6" x2="82.35" y2="277.6"/></g>
<rect x="76.20" y="258.20" width="5.8" height="5.8" fill="#e0207f"/>
<g stroke="#eaa39c" stroke-width="1.0" opacity="1"><line x1="97.8" y1="240.4" x2="97.8" y2="279.1"/><line x1="95.14999999999999" y1="240.4" x2="100.45" y2="240.4"/><line x1="95.14999999999999" y1="279.1" x2="100.45" y2="279.1"/></g>
<path d="M97.80,257.94 L100.40,262.88 L95.20,262.88 Z" fill="#eaa39c"/>
<g stroke="#b0184a" stroke-width="1.0" opacity="1"><line x1="116.9" y1="252.1" x2="116.9" y2="294.6"/><line x1="114.2" y1="252.1" x2="119.60000000000001" y2="252.1"/><line x1="114.2" y1="294.6" x2="119.60000000000001" y2="294.6"/></g>
<path d="M116.90,275.76 L119.50,270.82 L114.30,270.82 Z" fill="#b0184a"/>
<line x1="191.5" y1="216" x2="191.5" y2="336.5" stroke="#1a1a1a" stroke-width="1.1"/>
<line x1="191.5" y1="336.5" x2="314.6" y2="336.5" stroke="#1a1a1a" stroke-width="1.1"/>
<line x1="188.5" y1="218.20" x2="191.5" y2="218.20" stroke="#1a1a1a" stroke-width="1"/>
<text x="185.3" y="220.70" font-size="8.3" text-anchor="end" fill="#222">125</text>
<line x1="188.5" y1="241.86" x2="191.5" y2="241.86" stroke="#1a1a1a" stroke-width="1"/>
<text x="185.3" y="244.36" font-size="8.3" text-anchor="end" fill="#222">100</text>
<line x1="188.5" y1="265.52" x2="191.5" y2="265.52" stroke="#1a1a1a" stroke-width="1"/>
<text x="185.3" y="268.02" font-size="8.3" text-anchor="end" fill="#222">75</text>
<line x1="188.5" y1="289.18" x2="191.5" y2="289.18" stroke="#1a1a1a" stroke-width="1"/>
<text x="185.3" y="291.68" font-size="8.3" text-anchor="end" fill="#222">50</text>
<line x1="188.5" y1="312.84" x2="191.5" y2="312.84" stroke="#1a1a1a" stroke-width="1"/>
<text x="185.3" y="315.34" font-size="8.3" text-anchor="end" fill="#222">25</text>
<line x1="188.5" y1="336.50" x2="191.5" y2="336.50" stroke="#1a1a1a" stroke-width="1"/>
<text x="185.3" y="339.00" font-size="8.3" text-anchor="end" fill="#222">0</text>
<line x1="204.5" y1="336.5" x2="204.5" y2="339.0" stroke="#1a1a1a" stroke-width="1"/>
<line x1="224" y1="336.5" x2="224" y2="339.0" stroke="#1a1a1a" stroke-width="1"/>
<line x1="243.4" y1="336.5" x2="243.4" y2="339.0" stroke="#1a1a1a" stroke-width="1"/>
<line x1="262.6" y1="336.5" x2="262.6" y2="339.0" stroke="#1a1a1a" stroke-width="1"/>
<line x1="282" y1="336.5" x2="282" y2="339.0" stroke="#1a1a1a" stroke-width="1"/>
<line x1="301.4" y1="336.5" x2="301.4" y2="339.0" stroke="#1a1a1a" stroke-width="1"/>
<text transform="translate(206.10,347.80) rotate(-45)" font-size="7.6" text-anchor="end" fill="#222">Buffer</text>
<text transform="translate(225.60,347.80) rotate(-45)" font-size="7.6" text-anchor="end" fill="#222">SOT</text>
<text transform="translate(245.00,347.80) rotate(-45)" font-size="7.6" text-anchor="end" fill="#222">A11</text>
<text transform="translate(264.20,347.80) rotate(-45)" font-size="7.6" text-anchor="end" fill="#222">Buffer</text>
<text transform="translate(283.60,347.80) rotate(-45)" font-size="7.6" text-anchor="end" fill="#222">SOT</text>
<text transform="translate(303.00,347.80) rotate(-45)" font-size="7.6" text-anchor="end" fill="#222">A11</text>
<text transform="translate(166.4,276.2) rotate(-90)" x="0" y="0" font-size="9.1" text-anchor="middle" fill="#222" textLength="56.3" lengthAdjust="spacingAndGlyphs">CD62P positive (%)</text>
<rect x="199.45" y="325.25" width="10.9" height="11.25" fill="#8d9bc5" stroke="#7f8dba" stroke-width="0.7"/>
<rect x="218.55" y="325.25" width="10.9" height="11.25" fill="#b0906f" stroke="#a0805f" stroke-width="0.7"/>
<rect x="238.25" y="320.25" width="10.9" height="16.25" fill="#e88c86" stroke="#dc7e78" stroke-width="0.7"/>
<rect x="257.15" y="253.15" width="10.9" height="83.35" fill="#8d9bc5" stroke="#7f8dba" stroke-width="0.7"/>
<rect x="276.65" y="253.15" width="10.9" height="83.35" fill="#b0906f" stroke="#a0805f" stroke-width="0.7"/>
<rect x="296.05" y="253.15" width="10.9" height="83.35" fill="#e88c86" stroke="#dc7e78" stroke-width="0.7"/>
<g stroke="#3d5f8f" stroke-width="1" opacity="0.85"><line x1="204.5" y1="316.8" x2="204.5" y2="333"/><line x1="201.7" y1="316.8" x2="207.3" y2="316.8"/></g>
<circle cx="204.50" cy="316.80" r="2.65" fill="#1b4f8c"/>
<circle cx="200.80" cy="330.70" r="2.65" fill="#1b4f8c"/>
<circle cx="208.80" cy="326.90" r="2.65" fill="#1b4f8c"/>
<g stroke="#7a5230" stroke-width="1" opacity="0.85"><line x1="224" y1="315" x2="224" y2="333"/><line x1="221.2" y1="315" x2="226.8" y2="315"/></g>
<circle cx="224.00" cy="315.00" r="2.65" fill="#74420f"/>
<circle cx="224.00" cy="325.80" r="2.65" fill="#74420f"/>
<circle cx="224.00" cy="330.70" r="2.65" fill="#74420f"/>
<g stroke="#c8203f" stroke-width="1" opacity="0.85"><line x1="243.4" y1="308.7" x2="243.4" y2="330.7"/><line x1="240.6" y1="308.7" x2="246.20000000000002" y2="308.7"/></g>
<circle cx="239.50" cy="311.40" r="2.65" fill="#cf0e36"/>
<circle cx="247.60" cy="315.50" r="2.65" fill="#cf0e36"/>
<circle cx="243.40" cy="330.70" r="2.65" fill="#cf0e36"/>
<g stroke="#3d5f8f" stroke-width="1" opacity="0.85"><line x1="262.7" y1="237.5" x2="262.7" y2="267.5"/><line x1="259.9" y1="237.5" x2="265.5" y2="237.5"/></g>
<circle cx="258.80" cy="242.80" r="2.65" fill="#1b4f8c"/>
<circle cx="266.80" cy="244.00" r="2.65" fill="#1b4f8c"/>
<circle cx="262.70" cy="267.50" r="2.65" fill="#1b4f8c"/>
<g stroke="#7a5230" stroke-width="1" opacity="0.85"><line x1="282.1" y1="237.5" x2="282.1" y2="267.1"/><line x1="279.3" y1="237.5" x2="284.90000000000003" y2="237.5"/></g>
<circle cx="278.20" cy="242.80" r="2.65" fill="#74420f"/>
<circle cx="286.40" cy="244.70" r="2.65" fill="#74420f"/>
<circle cx="282.10" cy="267.10" r="2.65" fill="#74420f"/>
<g stroke="#c8203f" stroke-width="1" opacity="0.85"><line x1="301.5" y1="237.5" x2="301.5" y2="267.1"/><line x1="298.7" y1="237.5" x2="304.3" y2="237.5"/></g>
<circle cx="297.30" cy="242.80" r="2.65" fill="#cf0e36"/>
<circle cx="305.60" cy="244.00" r="2.65" fill="#cf0e36"/>
<circle cx="301.50" cy="267.10" r="2.65" fill="#cf0e36"/>
<line x1="189" y1="368.6" x2="239.3" y2="368.6" stroke="#505050" stroke-width="1.3"/>
<line x1="257.2" y1="368.6" x2="307.3" y2="368.6" stroke="#505050" stroke-width="1.3"/>
<text x="214.4" y="379" font-size="8" text-anchor="middle" fill="#222">Basal</text>
<text x="282.1" y="379" font-size="8" text-anchor="middle" fill="#222">Activated</text>
<line x1="390" y1="215.5" x2="390" y2="336.3" stroke="#1a1a1a" stroke-width="1.1"/>
<line x1="390" y1="336.3" x2="513.3" y2="336.3" stroke="#1a1a1a" stroke-width="1.1"/>
<line x1="387" y1="217.90" x2="390" y2="217.90" stroke="#1a1a1a" stroke-width="1"/>
<text x="383.6" y="220.90" font-size="8.3" text-anchor="end" fill="#222">800000</text>
<line x1="387" y1="247.50" x2="390" y2="247.50" stroke="#1a1a1a" stroke-width="1"/>
<text x="383.6" y="250.50" font-size="8.3" text-anchor="end" fill="#222">600000</text>
<line x1="387" y1="277.10" x2="390" y2="277.10" stroke="#1a1a1a" stroke-width="1"/>
<text x="383.6" y="280.10" font-size="8.3" text-anchor="end" fill="#222">400000</text>
<line x1="387" y1="306.70" x2="390" y2="306.70" stroke="#1a1a1a" stroke-width="1"/>
<text x="383.6" y="309.70" font-size="8.3" text-anchor="end" fill="#222">200000</text>
<line x1="387" y1="336.30" x2="390" y2="336.30" stroke="#1a1a1a" stroke-width="1"/>
<text x="383.6" y="339.30" font-size="8.3" text-anchor="end" fill="#222">0</text>
<line x1="402.6" y1="336.3" x2="402.6" y2="338.8" stroke="#1a1a1a" stroke-width="1"/>
<line x1="422.1" y1="336.3" x2="422.1" y2="338.8" stroke="#1a1a1a" stroke-width="1"/>
<line x1="441.5" y1="336.3" x2="441.5" y2="338.8" stroke="#1a1a1a" stroke-width="1"/>
<line x1="461.1" y1="336.3" x2="461.1" y2="338.8" stroke="#1a1a1a" stroke-width="1"/>
<line x1="480" y1="336.3" x2="480" y2="338.8" stroke="#1a1a1a" stroke-width="1"/>
<line x1="499.6" y1="336.3" x2="499.6" y2="338.8" stroke="#1a1a1a" stroke-width="1"/>
<text transform="translate(404.20,347.60) rotate(-45)" font-size="7.6" text-anchor="end" fill="#222">Buffer</text>
<text transform="translate(423.70,347.60) rotate(-45)" font-size="7.6" text-anchor="end" fill="#222">SOT</text>
<text transform="translate(443.10,347.60) rotate(-45)" font-size="7.6" text-anchor="end" fill="#222">A11</text>
<text transform="translate(462.70,347.60) rotate(-45)" font-size="7.6" text-anchor="end" fill="#222">Buffer</text>
<text transform="translate(481.60,347.60) rotate(-45)" font-size="7.6" text-anchor="end" fill="#222">SOT</text>
<text transform="translate(501.20,347.60) rotate(-45)" font-size="7.6" text-anchor="end" fill="#222">A11</text>
<text transform="translate(349.5,275.2) rotate(-90)" x="0" y="0" font-size="9.2" text-anchor="middle" fill="#222" textLength="86.7" lengthAdjust="spacingAndGlyphs">CD62P fluorescence intensity</text>
<rect x="455.55" y="271.75" width="10.9" height="64.55" fill="#8d9bc5" stroke="#7f8dba" stroke-width="0.7"/>
<rect x="474.65" y="273.45" width="10.9" height="62.85" fill="#b0906f" stroke="#a0805f" stroke-width="0.7"/>
<rect x="494.15" y="274.15" width="10.9" height="62.15" fill="#e88c86" stroke="#dc7e78" stroke-width="0.7"/>
<circle cx="399.00" cy="335.80" r="2.65" fill="#1b4f8c"/>
<circle cx="406.60" cy="335.80" r="2.65" fill="#1b4f8c"/>
<circle cx="402.80" cy="334.30" r="2.65" fill="#1b4f8c"/>
<circle cx="418.50" cy="335.80" r="2.65" fill="#74420f"/>
<circle cx="426.10" cy="335.80" r="2.65" fill="#74420f"/>
<circle cx="422.30" cy="334.30" r="2.65" fill="#74420f"/>
<circle cx="437.80" cy="335.80" r="2.65" fill="#cf0e36"/>
<circle cx="445.40" cy="335.80" r="2.65" fill="#cf0e36"/>
<circle cx="441.60" cy="334.30" r="2.65" fill="#cf0e36"/>
<g stroke="#3d5f8f" stroke-width="1" opacity="0.85"><line x1="461.1" y1="237.7" x2="461.1" y2="304.9"/><line x1="458.3" y1="237.7" x2="463.90000000000003" y2="237.7"/></g>
<circle cx="461.10" cy="239.90" r="2.65" fill="#1b4f8c"/>
<circle cx="461.10" cy="265.70" r="2.65" fill="#1b4f8c"/>
<circle cx="461.10" cy="304.90" r="2.65" fill="#1b4f8c"/>
<g stroke="#7a5230" stroke-width="1" opacity="0.85"><line x1="479.9" y1="240.4" x2="479.9" y2="304.9"/><line x1="477.09999999999997" y1="240.4" x2="482.7" y2="240.4"/></g>
<circle cx="479.90" cy="240.40" r="2.65" fill="#74420f"/>
<circle cx="479.90" cy="270.90" r="2.65" fill="#74420f"/>
<circle cx="479.90" cy="304.90" r="2.65" fill="#74420f"/>
<g stroke="#c8203f" stroke-width="1" opacity="0.85"><line x1="499.6" y1="241.5" x2="499.6" y2="305.4"/><line x1="496.8" y1="241.5" x2="502.40000000000003" y2="241.5"/></g>
<circle cx="499.60" cy="241.50" r="2.65" fill="#cf0e36"/>
<circle cx="499.60" cy="271.80" r="2.65" fill="#cf0e36"/>
<circle cx="499.60" cy="305.40" r="2.65" fill="#cf0e36"/>
<line x1="387.3" y1="368.8" x2="437.2" y2="368.8" stroke="#505050" stroke-width="1.3"/>
<line x1="455.4" y1="368.5" x2="505.1" y2="368.5" stroke="#505050" stroke-width="1.3"/>
<text x="412.4" y="379" font-size="8" text-anchor="middle" fill="#222">Basal</text>
<text x="480.1" y="379" font-size="8" text-anchor="middle" fill="#222">Activated</text>
</svg></body></html>
